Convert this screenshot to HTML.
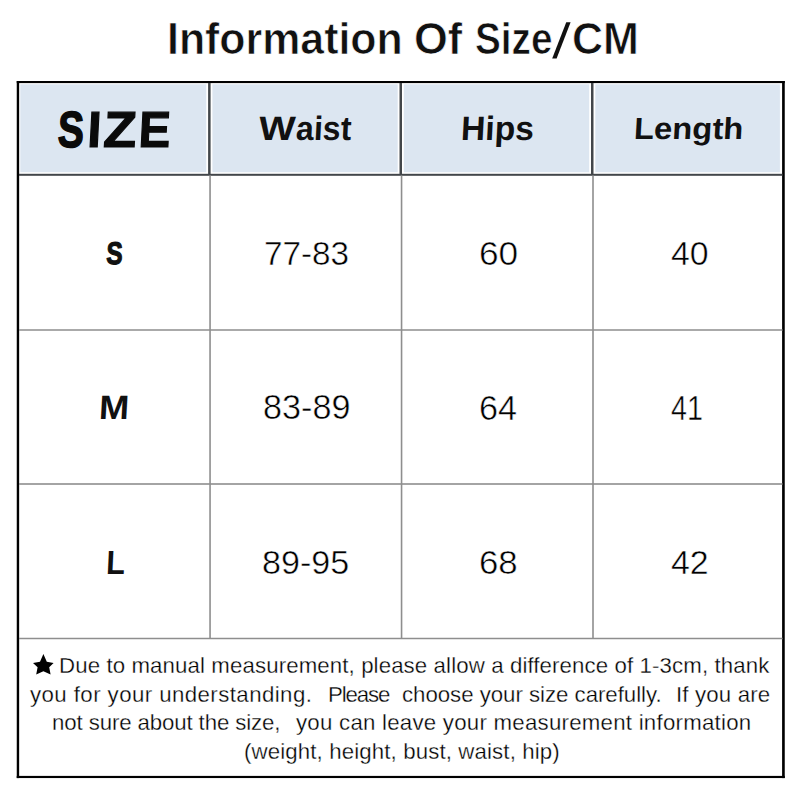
<!DOCTYPE html>
<html><head><meta charset="utf-8">
<style>
*{margin:0;padding:0;box-sizing:border-box}
html,body{width:800px;height:800px;background:#fff;overflow:hidden}
body{position:relative;font-family:"Liberation Sans",sans-serif;color:#111}
.a{position:absolute;white-space:nowrap;line-height:1;transform-origin:0 0}
.ln{position:absolute;left:0;top:0}
</style></head><body>
<svg class="ln" width="800" height="800" viewBox="0 0 800 800">
<rect x="20.3" y="84.3" width="186.0" height="87.9" fill="#dce6f1"/>
<rect x="212.4" y="84.3" width="185.3" height="87.9" fill="#dce6f1"/>
<rect x="403.8" y="84.3" width="185.4" height="87.9" fill="#dce6f1"/>
<rect x="595.3" y="84.3" width="184.6" height="87.9" fill="#dce6f1"/>
<rect x="16.75" y="81" width="2.4" height="697.1" fill="#000"/>
<rect x="782.1" y="81" width="2.65" height="697.1" fill="#000"/>
<rect x="16.75" y="81" width="768" height="2.1" fill="#000"/>
<rect x="16.75" y="775.9" width="768" height="2.15" fill="#000"/>
<rect x="19" y="173.8" width="763.5" height="2.0" fill="#42464a"/>
<rect x="208.1" y="83" width="2.5" height="91" fill="#42464a"/>
<rect x="399.5" y="83" width="2.5" height="91" fill="#42464a"/>
<rect x="591.0" y="83" width="2.5" height="91" fill="#42464a"/>
<rect x="209.25" y="175.5" width="1.6" height="463.5" fill="#8e8e8e"/>
<rect x="400.75" y="175.5" width="1.6" height="463.5" fill="#8e8e8e"/>
<rect x="592.2" y="175.5" width="1.6" height="463.5" fill="#8e8e8e"/>
<rect x="19" y="329.25" width="763.5" height="1.5" fill="#8e8e8e"/>
<rect x="19" y="483.2" width="763.5" height="1.6" fill="#8e8e8e"/>
<rect x="19" y="637.75" width="763.5" height="1.5" fill="#8e8e8e"/>
<polygon points="566.25,22.2 570.6,22.2 556.6,58.4 552.2,58.4" fill="#111"/>
<polygon points="43.4,654 46.8,661.8 53.6,663 49.2,667.2 50.6,674.4 43.4,671.2 36.2,674.4 37.6,667.2 33,663 40,661.8" fill="#000"/>
</svg>
<div class="a" style="left:166.95px;top:16.75px;font-size:44.00px;font-weight:bold;color:#111;transform:scaleX(0.9742);-webkit-text-stroke:0.7px #fff">Information</div>
<div class="a" style="left:414.00px;top:16.75px;font-size:44.00px;font-weight:bold;color:#111;transform:scaleX(0.9872);-webkit-text-stroke:0.7px #fff">Of</div>
<div class="a" style="left:474.96px;top:16.75px;font-size:44.00px;font-weight:bold;color:#111;transform:scaleX(0.8804);-webkit-text-stroke:0.7px #fff">Size</div>
<div class="a" style="left:571.51px;top:16.75px;font-size:44.00px;font-weight:bold;color:#111;transform:scaleX(0.9778);-webkit-text-stroke:0.7px #fff">CM</div>
<div class="a" style="left:59.06px;top:105.34px;font-size:50.87px;font-weight:bold;color:#0a0a0a;transform:scaleX(0.7694) skewX(-3deg);-webkit-text-stroke:1.5px #0a0a0a">S</div>
<div class="a" style="left:89.32px;top:104.58px;font-size:50.58px;font-weight:bold;color:#0a0a0a;transform:scaleX(0.9820) skewX(-3deg);-webkit-text-stroke:1.2px #0a0a0a">I</div>
<div class="a" style="left:105.05px;top:104.58px;font-size:50.58px;font-weight:bold;color:#0a0a0a;transform:scaleX(1.0654) skewX(-3deg);-webkit-text-stroke:1.2px #0a0a0a">Z</div>
<div class="a" style="left:140.18px;top:104.58px;font-size:50.58px;font-weight:bold;color:#0a0a0a;transform:scaleX(0.9412) skewX(-3deg);-webkit-text-stroke:1.2px #0a0a0a">E</div>
<div class="a" style="left:260.47px;top:111.73px;font-size:33.87px;font-weight:bold;color:#111;transform:scaleX(1.1398) skewX(-3deg);">W</div>
<div class="a" style="left:297.15px;top:111.73px;font-size:33.87px;font-weight:bold;color:#111;transform:scaleX(0.9465) skewX(-3deg);">aist</div>
<div class="a" style="left:461.69px;top:111.73px;font-size:33.87px;font-weight:bold;color:#111;transform:scaleX(0.9943) skewX(-3deg);">Hips</div>
<div class="a" style="left:634.69px;top:113.41px;font-size:30.52px;font-weight:bold;color:#111;transform:scaleX(1.0748) skewX(-3deg);">Length</div>
<div class="a" style="left:107.48px;top:238.42px;font-size:31.40px;font-weight:bold;color:#111;transform:scaleX(0.7768) skewX(-3deg);-webkit-text-stroke:1.2px #111">S</div>
<div class="a" style="left:100.15px;top:390.92px;font-size:33.65px;font-weight:bold;color:#111;transform:scaleX(1.0726) skewX(-3deg);">M</div>
<div class="a" style="left:106.70px;top:546.08px;font-size:33.58px;font-weight:bold;color:#111;transform:scaleX(0.9180) skewX(-3deg);">L</div>
<div class="a" style="left:263.66px;top:236.58px;font-size:33.58px;font-weight:normal;color:#000;transform:scaleX(0.9911);-webkit-text-stroke:0.5px #fff">77-83</div>
<div class="a" style="left:478.79px;top:236.58px;font-size:33.58px;font-weight:normal;color:#000;transform:scaleX(1.0499);-webkit-text-stroke:0.5px #fff">60</div>
<div class="a" style="left:670.65px;top:236.21px;font-size:34.01px;font-weight:normal;color:#000;transform:scaleX(0.9949);-webkit-text-stroke:0.5px #fff">40</div>
<div class="a" style="left:262.79px;top:390.49px;font-size:34.16px;font-weight:normal;color:#000;transform:scaleX(1.0011);-webkit-text-stroke:0.5px #fff">83-89</div>
<div class="a" style="left:478.91px;top:391.46px;font-size:34.30px;font-weight:normal;color:#000;transform:scaleX(0.9972);-webkit-text-stroke:0.5px #fff">64</div>
<div class="a" style="left:671.10px;top:391.46px;font-size:34.30px;font-weight:normal;color:#000;transform:scaleX(0.8365);-webkit-text-stroke:0.5px #fff">41</div>
<div class="a" style="left:262.40px;top:546.26px;font-size:33.72px;font-weight:normal;color:#000;transform:scaleX(1.0104);-webkit-text-stroke:0.5px #fff">89-95</div>
<div class="a" style="left:478.80px;top:546.13px;font-size:33.87px;font-weight:normal;color:#000;transform:scaleX(1.0271);-webkit-text-stroke:0.5px #fff">68</div>
<div class="a" style="left:671.09px;top:546.13px;font-size:33.87px;font-weight:normal;color:#000;transform:scaleX(1.0018);-webkit-text-stroke:0.5px #fff">42</div>
<div class="a" style="left:59.26px;top:656.08px;font-size:21.40px;font-weight:normal;color:#000;letter-spacing:0.103px;transform:scaleX(1.0400);-webkit-text-stroke:0.3px #fff">Due to manual measurement, please allow a difference of 1-3cm, thank</div>
<div class="a" style="left:30.40px;top:684.78px;font-size:21.40px;font-weight:normal;color:#000;letter-spacing:0.408px;transform:scaleX(1.0400);-webkit-text-stroke:0.3px #fff">you for your understanding.</div>
<div class="a" style="left:327.56px;top:684.78px;font-size:21.40px;font-weight:normal;color:#000;letter-spacing:-1.103px;transform:scaleX(1.0400);-webkit-text-stroke:0.3px #fff">Please</div>
<div class="a" style="left:401.63px;top:684.78px;font-size:21.40px;font-weight:normal;color:#000;letter-spacing:-0.031px;transform:scaleX(1.0400);-webkit-text-stroke:0.3px #fff">choose your size carefully.</div>
<div class="a" style="left:675.95px;top:684.78px;font-size:21.40px;font-weight:normal;color:#000;letter-spacing:0.156px;transform:scaleX(1.0400);-webkit-text-stroke:0.3px #fff">If you are</div>
<div class="a" style="left:51.95px;top:713.08px;font-size:21.40px;font-weight:normal;color:#000;letter-spacing:-0.115px;transform:scaleX(1.0400);-webkit-text-stroke:0.3px #fff">not sure about the size,</div>
<div class="a" style="left:295.90px;top:713.08px;font-size:21.40px;font-weight:normal;color:#000;letter-spacing:0.234px;transform:scaleX(1.0400);-webkit-text-stroke:0.3px #fff">you can leave your measurement information</div>
<div class="a" style="left:243.72px;top:741.78px;font-size:21.40px;font-weight:normal;color:#000;letter-spacing:0.121px;transform:scaleX(1.0400);-webkit-text-stroke:0.3px #fff">(weight, height, bust, waist, hip)</div>
</body></html>
